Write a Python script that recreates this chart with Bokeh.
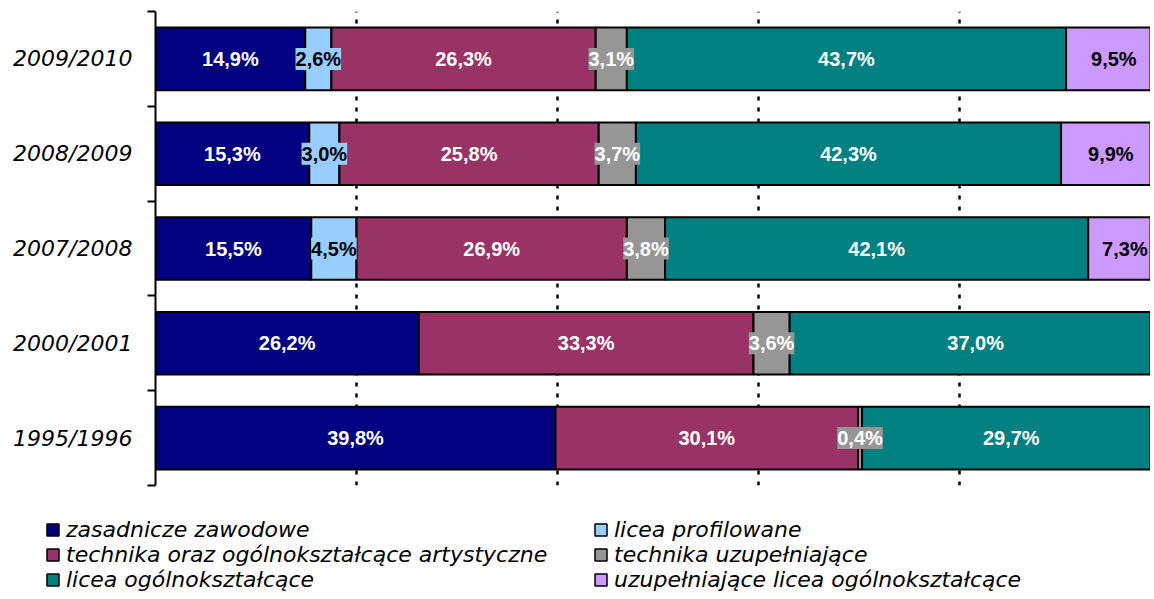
import numpy as np
from bokeh.plotting import figure
from bokeh.models import ColumnDataSource, Range1d, FixedTicker, Legend, LegendItem
from bokeh.core.properties import value
from bokeh.embed import file_html
from bokeh.resources import INLINE

categories = ["2009/2010", "2008/2009", "2007/2008", "2000/2001", "1995/1996"]
series_names = [
    "zasadnicze zawodowe",
    "licea profilowane",
    "technika oraz ogólnokształcące artystyczne",
    "technika uzupełniające",
    "licea ogólnokształcące",
    "uzupełniające licea ogólnokształcące",
]
zasadnicze = [14.9, 15.3, 15.5, 26.2, 39.8]
licea_prof = [2.6, 3.0, 4.5, 0.0, 0.0]
technika = [26.3, 25.8, 26.9, 33.3, 30.1]
technika_uzup = [3.1, 3.7, 3.8, 3.6, 0.4]
licea_ogol = [43.7, 42.3, 42.1, 37.0, 29.7]
uzup_licea = [9.5, 9.9, 7.3, 0.0, 0.0]

series = [zasadnicze, licea_prof, technika, technika_uzup, licea_ogol, uzup_licea]
colors = ["#000080", "#99CCFF", "#993366", "#969696", "#008080", "#CC99FF"]
label_colors = ["white", "black", "white", "white", "white", "black"]

n = len(categories)
ypos = [n - i - 0.5 for i in range(n)]

W = 1150
p = figure(width=W, height=498, x_range=Range1d(0, 99.0), y_range=Range1d(0, n),
           output_backend="svg", toolbar_location=None,
           min_border_left=155, min_border_right=0, min_border_top=11, min_border_bottom=13)

# legend panel (separate figure so the legend is not clipped by the main frame)
pl = figure(width=W, height=99, x_range=Range1d(0, 1), y_range=Range1d(-20, -19),
            output_backend="svg", toolbar_location=None,
            min_border_left=0, min_border_right=0, min_border_top=0, min_border_bottom=0)
pl.xaxis.visible = False
pl.yaxis.visible = False
pl.grid.visible = False
pl.outline_line_color = None

cum = np.zeros(n)
leg_renderers = []
lab_x, lab_y, lab_t, lab_c, lab_bg = [], [], [], [], []
for k, vals in enumerate(series):
    vals = np.array(vals)
    left = cum.copy()
    right = cum + vals
    mask = vals > 0
    src = ColumnDataSource(dict(y=[ypos[i] for i in range(n) if mask[i]],
                                left=left[mask], right=right[mask]))
    p.hbar(y="y", left="left", right="right", height=0.66, source=src,
           fill_color=colors[k], line_color="black", line_width=2)
    lr = pl.hbar(y="y", left="left", right="right", height=0.66, source=src,
                 fill_color=colors[k], line_color="black", line_width=1.5)
    lr.visible = False
    leg_renderers.append(lr)
    for i in range(n):
        if mask[i]:
            lab_x.append(left[i] + vals[i] / 2)
            lab_y.append(ypos[i])
            lab_t.append(f"{vals[i]:.1f}%".replace(".", ","))
            lab_c.append(label_colors[k])
            lab_bg.append(colors[k])
    cum = right

lsrc = ColumnDataSource(dict(x=lab_x, y=lab_y, t=lab_t, c=lab_c, bg=lab_bg))
p.text(x="x", y="y", text="t", source=lsrc, text_color="c", background_fill_color="bg",
       text_font=value("Liberation Sans"), text_font_style="bold", text_font_size="20px",
       text_align="center", text_baseline="middle")

p.xaxis.visible = False
p.xgrid.ticker = FixedTicker(ticks=[20, 40, 60, 80])
p.xgrid.grid_line_color = "black"
p.xgrid.grid_line_width = 2.5
p.xgrid.grid_line_dash = "4 7"
p.ygrid.visible = False
p.outline_line_color = None

p.yaxis.ticker = FixedTicker(ticks=ypos, minor_ticks=list(range(n + 1)))
p.yaxis.major_label_overrides = {ypos[i]: categories[i] for i in range(n)}
p.yaxis.major_tick_out = 0
p.yaxis.major_tick_in = 0
p.yaxis.minor_tick_out = 8
p.yaxis.minor_tick_in = 0
p.yaxis.minor_tick_line_width = 2
p.yaxis.minor_tick_line_color = "black"
p.yaxis.axis_line_width = 2
p.yaxis.axis_line_color = "black"
p.yaxis.major_label_text_font = "DejaVu Sans"
p.yaxis.major_label_text_font_style = "italic"
p.yaxis.major_label_text_font_size = "22px"
p.yaxis.major_label_text_color = "black"
p.yaxis.major_label_standoff = 15

def make_legend(idx, loc):
    return Legend(items=[LegendItem(label=series_names[i], renderers=[leg_renderers[i]]) for i in idx],
                  location=loc, orientation="vertical",
                  glyph_width=15, glyph_height=15, label_standoff=6, spacing=0,
                  padding=0, margin=0, border_line_color=None, background_fill_alpha=0,
                  inactive_fill_alpha=0,
                  label_text_font="DejaVu Sans", label_text_font_style="italic",
                  label_text_font_size="22px", label_height=24, label_text_color="black")

pl.add_layout(make_legend([0, 2, 4], (45, 5)))
pl.add_layout(make_legend([1, 3, 5], (593, 5)))

open("out.html", "w").write(file_html([p, pl], INLINE))
